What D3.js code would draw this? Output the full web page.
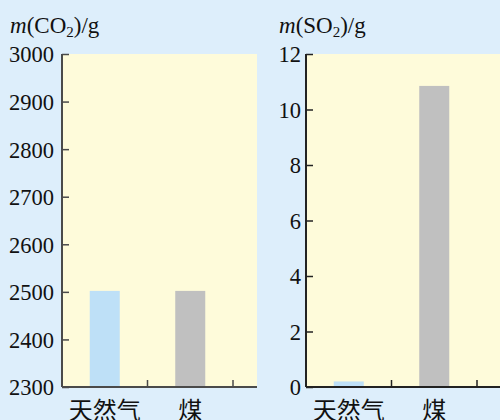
<!DOCTYPE html>
<html><head><meta charset="utf-8">
<script src="https://cdn.jsdelivr.net/npm/d3@7"></script>
<style>body{margin:0;background:#DDEEFB;}svg{display:block;}</style>
</head><body>
<svg id="c" width="500" height="420"></svg>
<script>
const categories = ["天然气", "煤"];
const co2Values = [2502, 2502];
const so2Values = [0.2, 10.85];
const co2Ticks = [2300, 2400, 2500, 2600, 2700, 2800, 2900, 3000];
const so2Ticks = [0, 2, 4, 6, 8, 10, 12];
const barColors = ["#BEE0F7", "#C0C0C0"];

const svg = d3.select("#c");
svg.append("rect").attr("width",500).attr("height",420).attr("fill","#DDEEFB");

function panel(opts){
  const {x0, x1, top, bottom, domain, ticks, values, title, axisColor, axisWidth} = opts;
  const g = svg.append("g");
  g.append("rect").attr("x",x0).attr("y",top).attr("width",x1-x0).attr("height",bottom-top).attr("fill","#FEFBDA");
  const y = d3.scaleLinear().domain(domain).range([bottom, top]);
  const xb = d3.scaleBand().domain([...categories, "_"]).range([x0, x0+3*85.5]).paddingInner(0).paddingOuter(0);
  const bw = 30;
  g.selectAll("rect.bar").data(values).enter().append("rect")
    .attr("class","bar")
    .attr("x",(d,i)=>xb(categories[i])+xb.bandwidth()/2-bw/2)
    .attr("width",bw)
    .attr("y",d=>y(d))
    .attr("height",d=>bottom-y(d))
    .attr("fill",(d,i)=>barColors[i]);
  // y axis
  const ya = d3.axisLeft(y).tickValues(ticks).tickSize(-7).tickPadding(3).tickFormat(d3.format("d"));
  const yg = g.append("g").attr("transform",`translate(${x0},0)`).call(ya);
  yg.select(".domain").attr("d",`M${0},${top}V${bottom}`).attr("stroke",axisColor).attr("stroke-width",axisWidth);
  yg.selectAll(".tick line").attr("stroke",axisColor).attr("stroke-width",1.5);
  yg.selectAll(".tick text").attr("font-family","'Liberation Serif', serif").attr("font-size",22.5).attr("fill","#111").attr("x",opts.labelX).attr("dy","0.35em");
  // x axis
  const xa = d3.axisBottom(xb).tickValues([]).tickSize(0);
  const xg = g.append("g").attr("transform",`translate(0,${bottom})`).call(xa);
  xg.select(".domain").attr("d",`M${x0},0H${x1}`).attr("stroke",axisColor).attr("stroke-width",axisWidth);
  // separator ticks
  const seps = categories.map(c=>xb(c)+xb.bandwidth()).filter(v=>v<x1);
  xg.selectAll("line.sep").data(seps).enter().append("line").attr("class","sep")
    .attr("x1",d=>d).attr("x2",d=>d).attr("y1",0).attr("y2",-7)
    .attr("stroke",axisColor).attr("stroke-width",1.5);
  xg.selectAll("text.cat").data(categories).enter().append("text").attr("class","cat")
    .attr("x",d=>xb(d)+xb.bandwidth()/2).attr("y",32)
    .attr("text-anchor","middle")
    .attr("font-family","'Noto Sans CJK SC', sans-serif").attr("font-size",24).attr("fill","#111")
    .text(d=>d);
  // title
  const t = svg.append("text").attr("x",opts.titleX).attr("y",33)
    .attr("font-family","'Liberation Serif', serif").attr("font-size",23).attr("fill","#111");
  t.append("tspan").attr("font-style","italic").text("m");
  t.append("tspan").text("(" + title + "O");
  t.append("tspan").attr("font-size",15).attr("dy",4).text("2");
  t.append("tspan").attr("dy",-4).text(")/g");
}

panel({x0:62, x1:257, top:54, bottom:387, domain:[2300,3000], ticks:co2Ticks, values:co2Values, title:"C", axisColor:"#4a4a4a", axisWidth:2, titleX:10, labelX:-8});
panel({x0:306, x1:500, top:54, bottom:387, domain:[0,12], ticks:so2Ticks, values:so2Values, title:"S", axisColor:"#222", axisWidth:2, titleX:279, labelX:-5});
</script>
</body></html>
